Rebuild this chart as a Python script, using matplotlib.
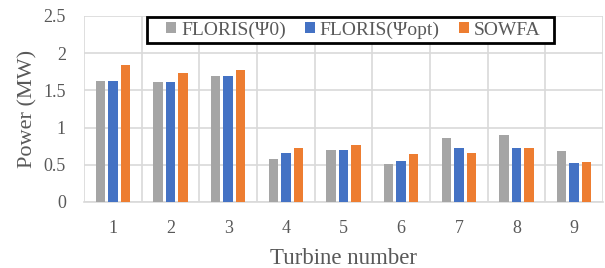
import numpy as np
import matplotlib
matplotlib.use("Agg")
import matplotlib.pyplot as plt
from matplotlib.patches import Rectangle

plt.rcParams['font.family'] = ['Liberation Serif', 'DejaVu Serif']

turbines = ['1', '2', '3', '4', '5', '6', '7', '8', '9']
floris_psi0 = [1.62, 1.61, 1.69, 0.58, 0.70, 0.51, 0.86, 0.90, 0.69]
floris_psiopt = [1.62, 1.61, 1.69, 0.66, 0.70, 0.55, 0.72, 0.72, 0.53]
sowfa = [1.84, 1.74, 1.78, 0.73, 0.76, 0.65, 0.66, 0.72, 0.54]

series = [
    ('FLORIS(\u03a80)', floris_psi0, '#a5a5a5'),
    ('FLORIS(\u03a8opt)', floris_psiopt, '#4472c4'),
    ('SOWFA', sowfa, '#ed7d31'),
]

W, H = 605, 268
fig = plt.figure(figsize=(W / 100, H / 100), dpi=100)
ax = fig.add_axes([84 / W, 66 / H, 519 / W, 186 / H])

x = np.arange(len(turbines))
width = 0.165
step = 0.218
for i, (label, vals, color) in enumerate(series):
    ax.bar(x + (i - 1) * step, vals, width, color=color, label=label, zorder=3)

ax.set_xlim(-0.5, len(turbines) - 0.5)
ax.set_ylim(0, 2.5)
ax.set_yticks([0, 0.5, 1, 1.5, 2, 2.5])
ax.set_yticklabels(['0', '0.5', '1', '1.5', '2', '2.5'])
ax.set_xticks(x)
ax.set_xticklabels(turbines)

# category separators and horizontal grid
ax.set_xticks(np.arange(len(turbines) + 1) - 0.5, minor=True)
ax.grid(axis='x', which='minor', color='#d9d9d9', linewidth=1.2, zorder=0)
ax.grid(axis='y', which='major', color='#d9d9d9', linewidth=1.2, zorder=0)
ax.tick_params(axis='both', which='both', length=0, labelsize=13, colors='#595959')
ax.tick_params(axis='x', pad=13)
ax.tick_params(axis='y', pad=13)
for side in ['top', 'right', 'left']:
    ax.spines[side].set_visible(False)
ax.spines['bottom'].set_color('#d9d9d9')
ax.spines['bottom'].set_linewidth(1.2)

ax.set_xlabel('Turbine number', fontsize=16.5, color='#595959', labelpad=8)
ax.set_ylabel('Power (MW)', fontsize=16, color='#595959', labelpad=4)

# legend box drawn separately (wide side padding like the original)
box = Rectangle((147 / W, 1 - 43 / H), (554 - 147) / W, 26 / H, transform=fig.transFigure,
                facecolor='white', edgecolor='black', linewidth=2.0, zorder=4)
fig.add_artist(box)
leg = fig.legend(loc='center', bbox_to_anchor=(353.5 / W, 1 - 30 / H), ncol=3, fontsize=14,
                 frameon=False, handlelength=0.5, handleheight=0.5,
                 handletextpad=0.25, columnspacing=1.0, borderpad=0.2)
for t in leg.get_texts():
    t.set_color('#595959')

fig.savefig('out.png', dpi=100)
